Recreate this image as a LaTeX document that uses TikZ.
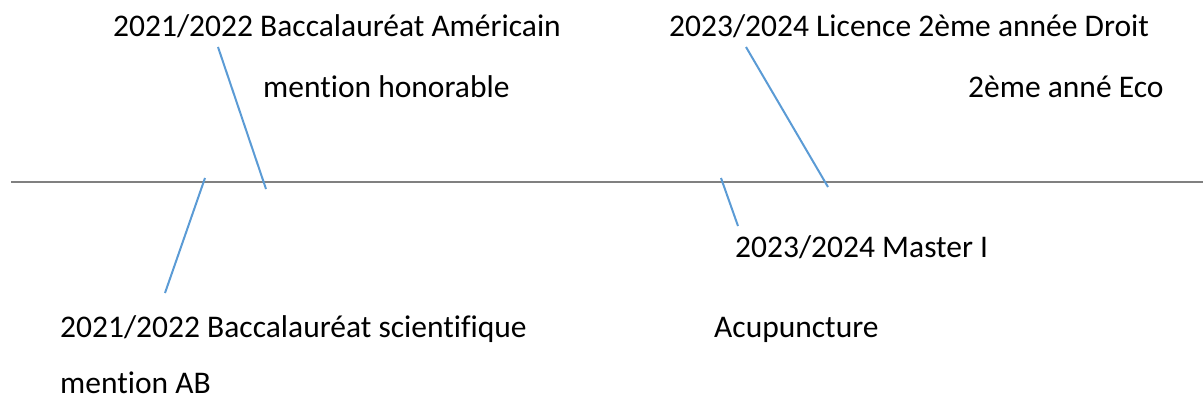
\documentclass[tikz,border=0pt]{standalone}
\usepackage{fontspec}
\setmainfont[Ligatures={NoCommon}]{Carlito}
\definecolor{axisgray}{RGB}{128,128,128}
\definecolor{tickblue}{RGB}{91,155,213}
\begin{document}
\begin{tikzpicture}[x=1pt,y=-1pt,
  lbl/.style={anchor=base west,inner sep=0pt,font=\fontsize{31.5}{36}\selectfont,text=black},
  axis/.style={draw=axisgray,line width=2.8pt},
  tick/.style={draw=tickblue,line width=2pt}]
\useasboundingbox (0,0) rectangle (1203,401);
% axis
\coordinate (axL) at (11,182);
\coordinate (axR) at (1203,182);
\draw[axis] (axL) -- (axR);
% labels
\node[lbl] (t1) at (113,37) {2021/2022 Baccalauréat Américain};
\node[lbl] (t2) at (263,98) {mention honorable};
\node[lbl] (t3) at (669,37) {2023/2024 Licence 2ème année Droit};
\node[lbl] (t4) at (968,98) {2ème anné Eco};
\node[lbl] (b1) at (735,258) {2023/2024 Master I};
\node[lbl] (b2) at (714,337) {Acupuncture};
\node[lbl] (b3) at (60,337) {2021/2022 Baccalauréat scientifique};
\node[lbl] (b4) at (60,393) {mention AB};
% tick lines
\coordinate (a1) at (218,47);  \coordinate (a2) at (266,189);
\coordinate (c1) at (205,178); \coordinate (c2) at (165,293);
\coordinate (d1) at (721,178); \coordinate (d2) at (738,226);
\coordinate (e1) at (746,47);  \coordinate (e2) at (828,187);
\draw[tick] (a1) -- (a2);
\draw[tick] (c1) -- (c2);
\draw[tick] (d1) -- (d2);
\draw[tick] (e1) -- (e2);
\end{tikzpicture}
\end{document}
